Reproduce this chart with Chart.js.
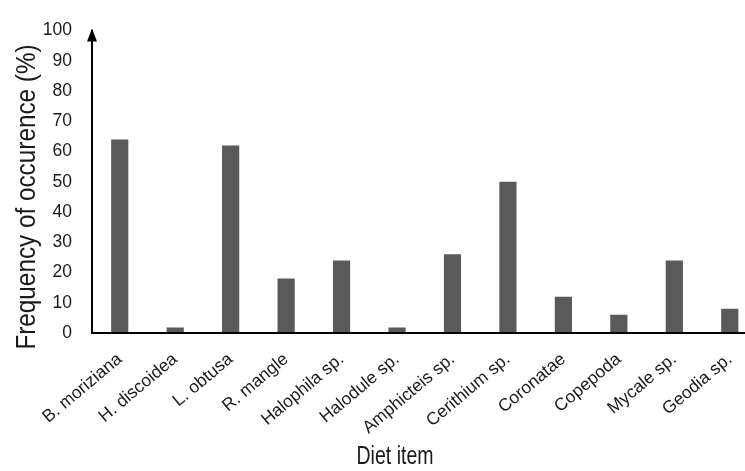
<!DOCTYPE html>
<html>
<head>
<meta charset="utf-8">
<script src="https://cdn.jsdelivr.net/npm/chart.js@4/dist/chart.umd.min.js"></script>
<style>
    html, body { margin: 0; padding: 0; overflow: hidden; background: #fff; }
    #wrap { position: relative; width: 770px; height: 471px; }
</style>
</head>
<body>
<div id="wrap"><canvas id="barChart"></canvas></div>
<script>
    // Diet items and frequency of occurrence (%)
    const dietItems = ['B. moriziana', 'H. discoidea', 'L. obtusa', 'R. mangle', 'Halophila sp.', 'Halodule sp.',
        'Amphicteis sp.', 'Cerithium sp.', 'Coronatae', 'Copepoda', 'Mycale sp.', 'Geodia sp.'];
    const frequency = [64, 1.8, 62, 18, 24, 1.8, 26, 50, 12, 6, 24, 8];
    const yTicks = [0, 10, 20, 30, 40, 50, 60, 70, 80, 90, 100];

    const yTitle = 'Frequency of occurence (%)';
    const xTitle = 'Diet item';
    const textColor = '#1a1a1a';
    const fontFamily = '"Liberation Sans", Arial, sans-serif';

    // Arrow on the y axis and the two axis titles (squeezed a bit, like the original)
    const axisDecor = {
        id: 'axisDecor',
        afterDraw(chart) {
            const ctx = chart.ctx;
            const area = chart.chartArea;
            const x0 = area.left;
            ctx.save();
            ctx.fillStyle = '#000';
            ctx.beginPath();
            ctx.moveTo(x0, area.top - 2);
            ctx.lineTo(x0 - 5, area.top + 11);
            ctx.lineTo(x0 + 5, area.top + 11);
            ctx.closePath();
            ctx.fill();

            ctx.fillStyle = textColor;
            ctx.textAlign = 'center';
            ctx.textBaseline = 'middle';

            ctx.save();
            ctx.translate(395, 457);
            ctx.scale(0.78, 1);
            ctx.font = '25px ' + fontFamily;
            ctx.fillText(xTitle, 0, 0);
            ctx.restore();

            ctx.translate(28, 197);
            ctx.rotate(-Math.PI / 2);
            ctx.scale(0.9, 1);
            ctx.font = '27px ' + fontFamily;
            ctx.fillText(yTitle, 0, 0);
            ctx.restore();
        }
    };

    const ctx = document.getElementById('barChart').getContext('2d');
    const barChart = new Chart(ctx, {
        type: 'bar',
        data: {
            labels: dietItems,
            datasets: [{
                data: frequency,
                backgroundColor: '#5a5a5a',
                borderWidth: 0,
                barPercentage: 0.31,
                categoryPercentage: 1
            }]
        },
        options: {
            responsive: true,
            maintainAspectRatio: false,
            animation: false,
            events: [],
            layout: {
                padding: { top: 19.5, right: 12.5, left: 0, bottom: 0 }
            },
            plugins: {
                legend: { display: false },
                tooltip: { enabled: false }
            },
            scales: {
                x: {
                    grid: { display: false, drawTicks: false },
                    border: { display: true, color: '#000', width: 2, z: 1 },
                    ticks: {
                        color: textColor,
                        font: { family: fontFamily, size: 17.5 },
                        minRotation: 40,
                        maxRotation: 40,
                        autoSkip: false,
                        padding: 16
                    },
                    afterFit(scale) { scale.height = 138; }
                },
                y: {
                    min: 0,
                    max: 100,
                    grid: { display: false, drawTicks: false },
                    border: { display: true, color: '#000', width: 2, z: 1 },
                    afterBuildTicks(scale) {
                        scale.ticks = yTicks.map(function (v) { return { value: v }; });
                    },
                    ticks: {
                        color: textColor,
                        font: { family: fontFamily, size: 17.5 },
                        padding: 20
                    },
                    afterFit(scale) { scale.width = 92; }
                }
            }
        },
        plugins: [axisDecor]
    });
</script>
</body>
</html>
